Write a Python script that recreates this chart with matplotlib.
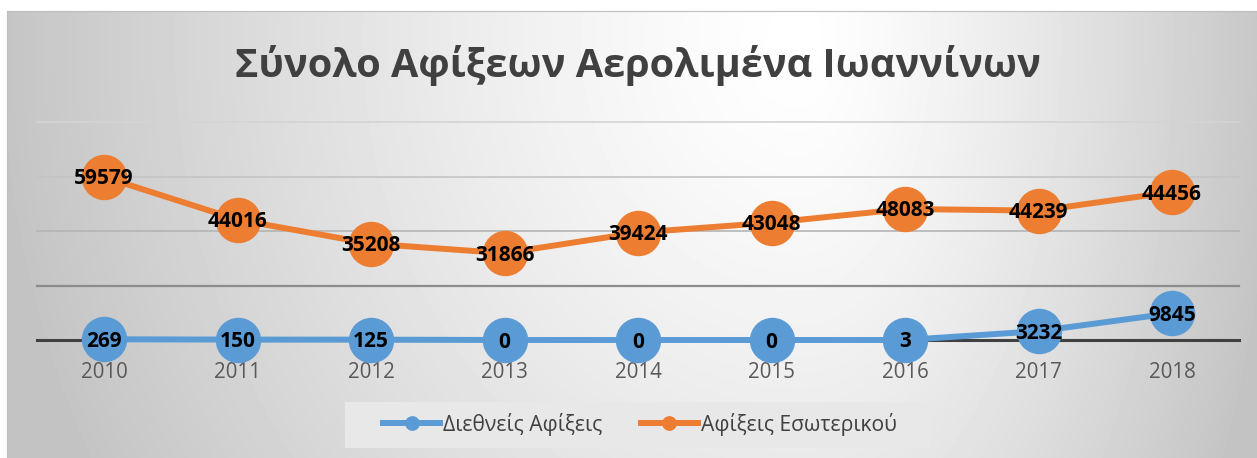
import numpy as np
import matplotlib
matplotlib.use("Agg")
import matplotlib.pyplot as plt
from matplotlib.lines import Line2D
from matplotlib.patches import Rectangle

years = ["2010", "2011", "2012", "2013", "2014", "2015", "2016", "2017", "2018"]
intl = [269, 150, 125, 0, 0, 0, 3, 3232, 9845]
domestic = [59579, 44016, 35208, 31866, 39424, 43048, 48083, 44239, 44456]
title = "Σύνολο Αφίξεων Αερολιμένα Ιωαννίνων"
names = ["Διεθνείς Αφίξεις", "Αφίξεις Εσωτερικού"]

C_BLUE, C_ORANGE, C_TXT = "#5B9BD5", "#ED7D31", "#404040"
FONT = "Open Sans"

W, H = 1257, 458
fig = plt.figure(figsize=(W / 100, H / 100), dpi=100)

# chart area: radial grey gradient, white-ish near the title
bg = fig.add_axes([7 / W, 0, 1 - 7 / W, 1 - 11 / H])
yy, xx = np.mgrid[11:H, 7:W]
rx = np.where(xx < 800, 790, 470)
d = np.hypot((xx - 800) / rx, (yy - 40) / 900)
shade = np.clip(255 - 58 * d ** 1.3, 196, 255) / 255
bg.imshow(shade, cmap="gray", vmin=0, vmax=1, aspect="auto",
          interpolation="bilinear")
bg.set_xticks([])
bg.set_yticks([])
for s in ("right", "bottom"):
    bg.spines[s].set_visible(False)
for s in ("top", "left"):
    bg.spines[s].set_color("#bfbfbf")
    bg.spines[s].set_linewidth(0.8)

ax = fig.add_axes([37.25 / W, (H - 340) / H, 1201.5 / W, 218 / H])
ax.set_facecolor("none")
ax.set_xlim(-0.5, 8.5)
ax.set_ylim(0, 80000)
for s in ax.spines.values():
    s.set_visible(False)
ax.set_yticks([])
for lvl, col, lw in [(20000, "#8c8c8c", 1.6), (40000, "#b4b4b4", 1.2),
                     (60000, "#c4c4c4", 1.2), (80000, "#d4d4d4", 1.2)]:
    ax.axhline(lvl, color=col, lw=lw, zorder=1, clip_on=False)
ax.axhline(0, color=C_TXT, lw=2.2, zorder=2, clip_on=False)

x = np.arange(len(years))
# stacked line chart: the orange series sits on top of the blue one
stacked = [a + b for a, b in zip(intl, domestic)]
ax.plot(x, intl, color=C_BLUE, lw=4.3, marker="o", ms=31.7, zorder=3,
        clip_on=False)
ax.plot(x, stacked, color=C_ORANGE, lw=4.3, marker="o", ms=31.7, zorder=3,
        clip_on=False)
for i in x:
    for yv, lbl in ((intl[i], intl[i]), (stacked[i], domestic[i])):
        ax.annotate(str(lbl), (i, yv), xytext=(0, -5.4),
                    textcoords="offset points", ha="center", va="baseline",
                    fontsize=15, fontweight="bold", family=FONT,
                    color="black", zorder=4, annotation_clip=False)

ax.set_xticks(x, years)
ax.tick_params(axis="x", length=0, pad=16, labelsize=14.8, labelcolor="#595959")
for lab in ax.get_xticklabels():
    lab.set_family(FONT)

fig.text(638 / W, 1 - 77 / H, title, ha="center", va="baseline", fontsize=28.5,
         fontweight="bold", color=C_TXT, family=FONT)

# legend box drawn by hand, legend itself frameless
ax.add_patch(Rectangle((345 / W, 1 - 448 / H), 586 / W, 46 / H,
                       transform=fig.transFigure, facecolor="#e8e8e8",
                       edgecolor="none", zorder=0, clip_on=False))
handles = [Line2D([], [], color=C_BLUE, lw=4.3, marker="o", ms=9.6),
           Line2D([], [], color=C_ORANGE, lw=4.3, marker="o", ms=9.6)]
leg = ax.legend(handles, names, loc="center", ncol=2,
                bbox_to_anchor=(640 / W, 1 - 424 / H),
                bbox_transform=fig.transFigure, frameon=False,
                handlelength=2.7, handletextpad=0.15, columnspacing=1.8,
                borderpad=0, borderaxespad=0,
                prop={"family": FONT, "size": 15.2})
for t in leg.get_texts():
    t.set_color(C_TXT)

fig.savefig("out.png", dpi=100)
